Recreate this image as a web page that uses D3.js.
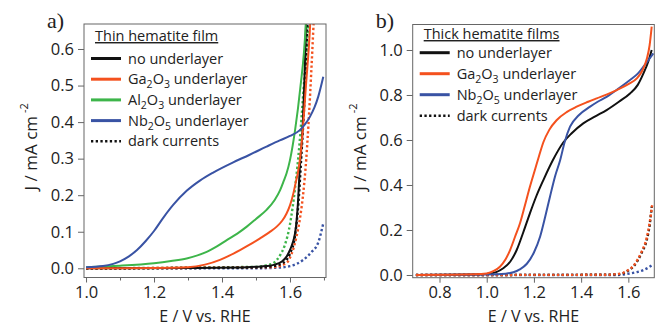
<!DOCTYPE html>
<html>
<head>
<meta charset="utf-8">
<script src="https://cdn.jsdelivr.net/npm/d3@7"></script>
<style>
  body { margin: 0; background: #fff; }
  svg { display: block; }
  .tick text { font-family: "Open Sans", Lato, sans-serif; font-size: 16.5px; fill: #222; }
  .tick line { stroke: #666; }
</style>
</head>
<body>
<div id="chart"></div>
<script>
/**
 * DATA (E in V vs RHE, J in mA cm^-2)
 * */
// panel a – thin hematite film
const thinNone = [[1.0,0],[1.3,0.001],[1.45,0.002],[1.5,0.004],[1.53,0.006],[1.555,0.01],[1.575,0.018],[1.59,0.032],[1.6,0.05],[1.608,0.07],[1.615,0.096],[1.62,0.135],[1.624,0.187],[1.629,0.278],[1.637,0.378],[1.642,0.5],[1.647,0.66],[1.649,0.72]];
const thinGa = [[1.0,0],[1.2,0.001],[1.3,0.003],[1.35,0.01],[1.394,0.023],[1.42,0.034],[1.453,0.05],[1.48,0.064],[1.512,0.082],[1.54,0.099],[1.561,0.114],[1.577,0.13],[1.59,0.15],[1.6,0.172],[1.61,0.205],[1.617,0.235],[1.623,0.26],[1.629,0.296],[1.636,0.36],[1.647,0.5],[1.659,0.66],[1.662,0.72]];
const thinAl = [[1.0,0.003],[1.1,0.007],[1.2,0.014],[1.25,0.02],[1.296,0.027],[1.33,0.036],[1.355,0.045],[1.385,0.06],[1.414,0.077],[1.445,0.095],[1.473,0.114],[1.5,0.135],[1.531,0.16],[1.555,0.187],[1.571,0.214],[1.582,0.24],[1.59,0.26],[1.6,0.296],[1.615,0.378],[1.63,0.49],[1.646,0.66],[1.649,0.72]];
const thinNb = [[1.0,0.003],[1.05,0.006],[1.08,0.012],[1.1,0.019],[1.125,0.032],[1.15,0.05],[1.175,0.074],[1.2,0.102],[1.227,0.138],[1.257,0.174],[1.296,0.212],[1.335,0.24],[1.374,0.262],[1.433,0.29],[1.48,0.31],[1.531,0.333],[1.57,0.35],[1.6,0.362],[1.629,0.378],[1.645,0.395],[1.659,0.415],[1.672,0.44],[1.683,0.469],[1.698,0.524]];
const thinDarkNone = [[1.0,0],[1.5,0.002],[1.55,0.006],[1.58,0.015],[1.6,0.04],[1.615,0.09],[1.625,0.18],[1.633,0.3],[1.642,0.45],[1.651,0.66],[1.654,0.72]];
const thinDarkGa = [[1.0,0],[1.55,0.003],[1.59,0.015],[1.605,0.04],[1.619,0.086],[1.63,0.14],[1.639,0.205],[1.648,0.3],[1.656,0.42],[1.669,0.66],[1.672,0.72]];
const thinDarkAl = [[1.0,0],[1.5,0.004],[1.53,0.008],[1.551,0.014],[1.571,0.036],[1.585,0.064],[1.6,0.12],[1.615,0.22],[1.628,0.34],[1.64,0.49],[1.653,0.66],[1.656,0.72]];
const thinDarkNb = [[1.0,0],[1.5,0],[1.551,0.001],[1.6,0.006],[1.639,0.023],[1.664,0.045],[1.683,0.07],[1.698,0.123]];

// panel b – thick hematite films
const thickNone = [[0.7,0],[0.95,0.002],[1.0,0.005],[1.04,0.013],[1.07,0.03],[1.1,0.06],[1.127,0.111],[1.155,0.19],[1.183,0.274],[1.21,0.35],[1.24,0.422],[1.28,0.51],[1.325,0.59],[1.36,0.63],[1.409,0.674],[1.46,0.705],[1.508,0.733],[1.56,0.77],[1.607,0.807],[1.64,0.845],[1.664,0.896],[1.685,0.95],[1.699,1.0]];
const thickGa = [[0.7,0],[0.95,0.003],[1.0,0.007],[1.03,0.018],[1.056,0.037],[1.08,0.07],[1.099,0.111],[1.12,0.17],[1.141,0.23],[1.162,0.31],[1.183,0.392],[1.205,0.47],[1.222,0.53],[1.24,0.59],[1.265,0.645],[1.297,0.689],[1.34,0.725],[1.381,0.748],[1.43,0.77],[1.466,0.785],[1.51,0.803],[1.551,0.822],[1.6,0.848],[1.636,0.874],[1.66,0.91],[1.678,0.96],[1.69,1.02],[1.699,1.104]];
const thickNb = [[0.7,0],[1.0,0.002],[1.08,0.006],[1.113,0.012],[1.14,0.025],[1.17,0.05],[1.2,0.1],[1.226,0.17],[1.248,0.26],[1.268,0.348],[1.29,0.44],[1.311,0.51],[1.33,0.59],[1.353,0.659],[1.39,0.71],[1.438,0.748],[1.47,0.77],[1.508,0.792],[1.56,0.83],[1.607,0.867],[1.64,0.895],[1.664,0.926],[1.685,0.955],[1.706,0.985]];
const thickDarkNone = [[0.7,0],[1.5,0.001],[1.55,0.003],[1.579,0.008],[1.6,0.02],[1.621,0.037],[1.64,0.065],[1.657,0.1],[1.678,0.156],[1.69,0.22],[1.699,0.304]];
const thickDarkGa = [[0.7,0],[1.5,0.001],[1.55,0.004],[1.579,0.01],[1.6,0.022],[1.621,0.04],[1.64,0.07],[1.657,0.105],[1.678,0.165],[1.69,0.23],[1.701,0.31]];
const thickDarkNb = [[0.7,0],[1.55,0],[1.607,0.007],[1.64,0.014],[1.664,0.022],[1.685,0.033],[1.703,0.046]];

// ticks
const thinXTicks = [1.0, 1.2, 1.4, 1.6];
const thinXMinor = [1.1, 1.3, 1.5, 1.7];
const thinYTicks = [0.0, 0.1, 0.2, 0.3, 0.4, 0.5, 0.6];
const thickXTicks = [0.8, 1.0, 1.2, 1.4, 1.6];
const thickYTicks = [0.0, 0.2, 0.4, 0.6, 0.8, 1.0];

const COLORS = { none: "#111111", ga: "#f4511e", al: "#3db54a", nb: "#3953a4" };
const FONT = "'Open Sans', Lato, sans-serif";
const DOTS = "2.3,2.4";

/**
 * LAYOUT
 * */
const width = 660, height = 327;
const panels = [
  {
    tag: "a)", title: "Thin hematite film",
    left: 84, right: 326, top: 24, bottom: 277.5,
    xDomain: [0.994, 1.706], yDomain: [-0.0252, 0.6684],
    xTicks: thinXTicks, xMinor: thinXMinor, yTicks: thinYTicks,
    solid: [["none", thinNone], ["al", thinAl], ["ga", thinGa], ["nb", thinNb]],
    dark: [["nb", thinDarkNb], ["al", thinDarkAl], ["ga", thinDarkGa], ["none", thinDarkNone]],
    legend: [
      ["none", [["no underlayer"]]],
      ["ga", [["Ga"], ["2", 1], ["O"], ["3", 1], [" underlayer"]]],
      ["al", [["Al"], ["2", 1], ["O"], ["3", 1], [" underlayer"]]],
      ["nb", [["Nb"], ["2", 1], ["O"], ["5", 1], [" underlayer"]]],
      [null, [["dark currents"]]]
    ],
    legendY0: 58.5, legendStep: 20.7, titleY: 41,
    yLabelX: 37
  },
  {
    tag: "b)", title: "Thick hematite films",
    left: 412.7, right: 654.3, top: 24.5, bottom: 277.7,
    xDomain: [0.6864, 1.710], yDomain: [-0.012, 1.1133],
    xTicks: thickXTicks, xMinor: [], yTicks: thickYTicks,
    solid: [["none", thickNone], ["nb", thickNb], ["ga", thickGa]],
    dark: [["nb", thickDarkNb], ["none", thickDarkNone], ["ga", thickDarkGa]],
    legend: [
      ["none", [["no underlayer"]]],
      ["ga", [["Ga"], ["2", 1], ["O"], ["3", 1], [" underlayer"]]],
      ["nb", [["Nb"], ["2", 1], ["O"], ["5", 1], [" underlayer"]]],
      [null, [["dark currents"]]]
    ],
    legendY0: 52.7, legendStep: 21, titleY: 39,
    yLabelX: 366
  }
];

const svg = d3.select("#chart").append("svg")
  .attr("width", width)
  .attr("height", height);

const defs = svg.append("defs");

panels.forEach((p, i) => {
  const xScale = d3.scaleLinear().domain(p.xDomain).range([p.left, p.right]);
  const yScale = d3.scaleLinear().domain(p.yDomain).range([p.bottom, p.top]);
  const g = svg.append("g");

  defs.append("clipPath").attr("id", "clip" + i)
    .append("rect")
    .attr("x", p.left).attr("y", p.top)
    .attr("width", p.right - p.left).attr("height", p.bottom - p.top);

  // axes (ticks outside the frame)
  const xAxis = d3.axisBottom(xScale).tickValues(p.xTicks).tickFormat(d3.format(".1f")).tickSize(5).tickPadding(4);
  g.append("g").attr("transform", `translate(0,${p.bottom})`).call(xAxis)
    .call(s => s.select(".domain").remove());
  if (p.xMinor.length) {
    g.append("g").attr("transform", `translate(0,${p.bottom})`)
      .call(d3.axisBottom(xScale).tickValues(p.xMinor).tickFormat("").tickSize(3))
      .call(s => s.select(".domain").remove());
  }
  const yAxis = d3.axisLeft(yScale).tickValues(p.yTicks).tickFormat(d3.format(".1f")).tickSize(6).tickPadding(4);
  g.append("g").attr("transform", `translate(${p.left},0)`).call(yAxis)
    .call(s => s.select(".domain").remove());

  // curves
  const lineFunc = d3.line()
    .x(d => xScale(d[0]))
    .y(d => yScale(d[1]))
    .curve(d3.curveMonotoneX);

  const plot = g.append("g").attr("clip-path", `url(#clip${i})`);
  plot.selectAll("path.dark")
    .data(p.dark)
    .join("path")
    .attr("class", "dark")
    .attr("fill", "none")
    .attr("stroke", d => COLORS[d[0]])
    .attr("stroke-width", 2.4)
    .attr("stroke-dasharray", DOTS)
    .attr("d", d => lineFunc(d[1]));
  plot.selectAll("path.trend")
    .data(p.solid)
    .join("path")
    .attr("class", "trend")
    .attr("fill", "none")
    .attr("stroke", d => COLORS[d[0]])
    .attr("stroke-width", 2)
    .attr("d", d => lineFunc(d[1]));

  // frame
  g.append("rect")
    .attr("x", p.left).attr("y", p.top)
    .attr("width", p.right - p.left).attr("height", p.bottom - p.top)
    .attr("fill", "none").attr("stroke", "#666").attr("stroke-width", 1);

  // axis labels
  g.append("text")
    .attr("x", (p.left + p.right) / 2)
    .attr("y", 322)
    .attr("text-anchor", "middle")
    .style("font-family", FONT)
    .style("font-size", "16px")
    .attr("fill", "#222")
    .text("E / V vs. RHE");

  const yl = g.append("text")
    .attr("transform", `translate(${p.yLabelX},${(p.top + p.bottom) / 2 - 4}) rotate(-90)`)
    .attr("text-anchor", "middle")
    .style("font-family", FONT)
    .style("font-size", "17px")
    .attr("fill", "#222");
  yl.append("tspan").text("J / mA cm");
  yl.append("tspan").attr("dy", -9).attr("dx", 3).style("font-size", "11px").text("-2");

  // panel tag
  g.append("text")
    .attr("x", p.left - 37)
    .attr("y", 28)
    .style("font-family", "'Liberation Serif', serif")
    .style("font-size", "22px")
    .attr("fill", "#222")
    .text(p.tag);

  // legend
  const lx = p.left + 7;
  g.append("text")
    .attr("x", p.left + 11)
    .attr("y", p.titleY)
    .style("font-family", FONT)
    .style("font-size", "14.5px")
    .style("text-decoration", "underline")
    .attr("fill", "#222")
    .text(p.title);

  const rows = g.selectAll("g.leg")
    .data(p.legend)
    .join("g")
    .attr("class", "leg")
    .attr("transform", (d, k) => `translate(0,${p.legendY0 + k * p.legendStep})`);
  rows.append("line")
    .attr("x1", lx).attr("x2", lx + 30)
    .attr("stroke", d => d[0] ? COLORS[d[0]] : COLORS.none)
    .attr("stroke-width", d => d[0] ? 3 : 2.4)
    .attr("stroke-dasharray", d => d[0] ? null : DOTS);
  rows.append("text")
    .attr("x", lx + 37)
    .attr("y", 5)
    .style("font-family", FONT)
    .style("font-size", "14.5px")
    .attr("fill", "#222")
    .each(function(d) {
      const t = d3.select(this);
      let sub = false;
      d[1].forEach(part => {
        const isSub = !!part[1];
        const ts = t.append("tspan").text(part[0]);
        if (isSub && !sub) ts.attr("dy", 4).style("font-size", "10.5px");
        else if (isSub) ts.style("font-size", "10.5px");
        else if (!isSub && sub) ts.attr("dy", -4);
        sub = isSub;
      });
    });
});
</script>
</body>
</html>
